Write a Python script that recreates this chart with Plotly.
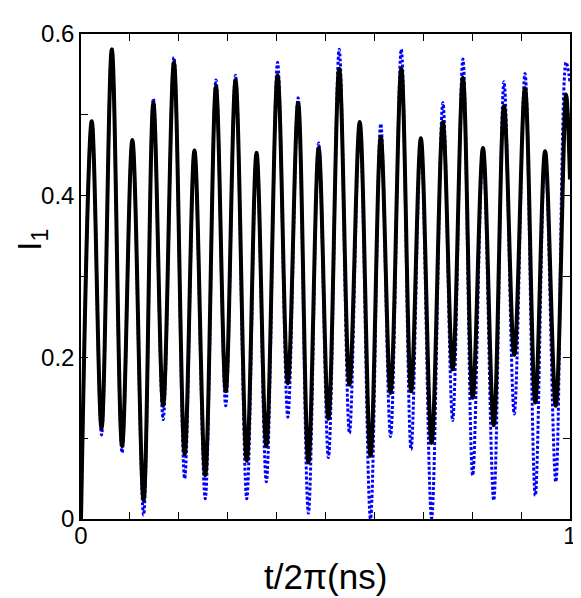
import plotly.graph_objects as go

# extrema of I_1 (t/2pi in ns)
t = [0.000, 0.022, 0.042, 0.063, 0.084, 0.105, 0.128, 0.148, 0.168, 0.190,
     0.212, 0.232, 0.254, 0.276, 0.296, 0.316, 0.339, 0.359, 0.379, 0.402,
     0.423, 0.444, 0.465, 0.486, 0.506, 0.528, 0.549, 0.570, 0.592, 0.613,
     0.633, 0.655, 0.675, 0.695, 0.717, 0.740, 0.760, 0.781, 0.801, 0.822,
     0.844, 0.865, 0.886, 0.908, 0.929, 0.949, 0.971, 0.992, 1.000]

i1_solid = [0.000, 0.492, 0.112, 0.581, 0.090, 0.469, 0.023, 0.515, 0.140, 0.565,
            0.080, 0.456, 0.054, 0.535, 0.158, 0.543, 0.072, 0.453, 0.090, 0.549,
            0.168, 0.515, 0.070, 0.459, 0.124, 0.557, 0.166, 0.491, 0.078, 0.473,
            0.156, 0.557, 0.158, 0.471, 0.094, 0.491, 0.185, 0.546, 0.150, 0.459,
            0.116, 0.511, 0.203, 0.533, 0.144, 0.455, 0.140, 0.525, 0.420]

i1_dotted = [0.000, 0.492, 0.104, 0.583, 0.082, 0.469, 0.005, 0.520, 0.123, 0.571,
             0.050, 0.456, 0.025, 0.543, 0.140, 0.549, 0.025, 0.453, 0.046, 0.565,
             0.126, 0.521, 0.007, 0.465, 0.076, 0.581, 0.106, 0.491, 0.000, 0.489,
             0.102, 0.581, 0.086, 0.471, 0.001, 0.515, 0.122, 0.569, 0.054, 0.459,
             0.023, 0.541, 0.130, 0.551, 0.029, 0.455, 0.046, 0.565, 0.540]

x_ticks = [0, 1]
y_ticks = [0, 0.2, 0.4, 0.6]
y_ticktext = ['0', '0.2', '0.4', '0.6']

fig = go.Figure()
fig.add_trace(go.Scatter(x=t, y=i1_dotted, mode='lines', line=dict(color='#0000FF', width=3, dash='3px,2px', shape='spline', smoothing=1.0)))
fig.add_trace(go.Scatter(x=t, y=i1_solid, mode='lines', line=dict(color='black', width=4, shape='spline', smoothing=1.0)))

axis_style = dict(showgrid=False, zeroline=False, showline=True, linecolor='black', linewidth=1.5,
                  mirror='ticks', ticks='inside', ticklen=7, tickwidth=1.2, tickcolor='black',
                  tickfont=dict(family='Liberation Sans, Arial', size=24, color='black'),
                  minor=dict(ticks='inside', dtick=0.1, tick0=0, ticklen=7, tickwidth=1.2, tickcolor='black', showgrid=False))

fig.update_xaxes(range=[0, 1], tickvals=x_ticks, ticktext=['0', '1'], ticklabelstandoff=-6, **axis_style)
fig.update_yaxes(range=[0, 0.6], tickvals=y_ticks, ticktext=y_ticktext, **axis_style)

fig.add_annotation(text='t/2π(ns)', x=0.5, y=-0.075, xref='paper', yref='paper', xanchor='center', yanchor='top',
                   showarrow=False, font=dict(family='Liberation Sans, Arial', size=35, color='black'))
fig.add_annotation(text='I<sub>1</sub>', x=-0.144, y=0.575, xref='paper', yref='paper', xanchor='left',
                   yanchor='middle', textangle=-90, showarrow=False, borderpad=0,
                   font=dict(family='Liberation Sans, Arial', size=33, color='black'))

fig.update_layout(width=581, height=598, showlegend=False, plot_bgcolor='white', paper_bgcolor='white',
                  margin=dict(l=73, r=12, t=15, b=87))

fig.write_html("out.html")
